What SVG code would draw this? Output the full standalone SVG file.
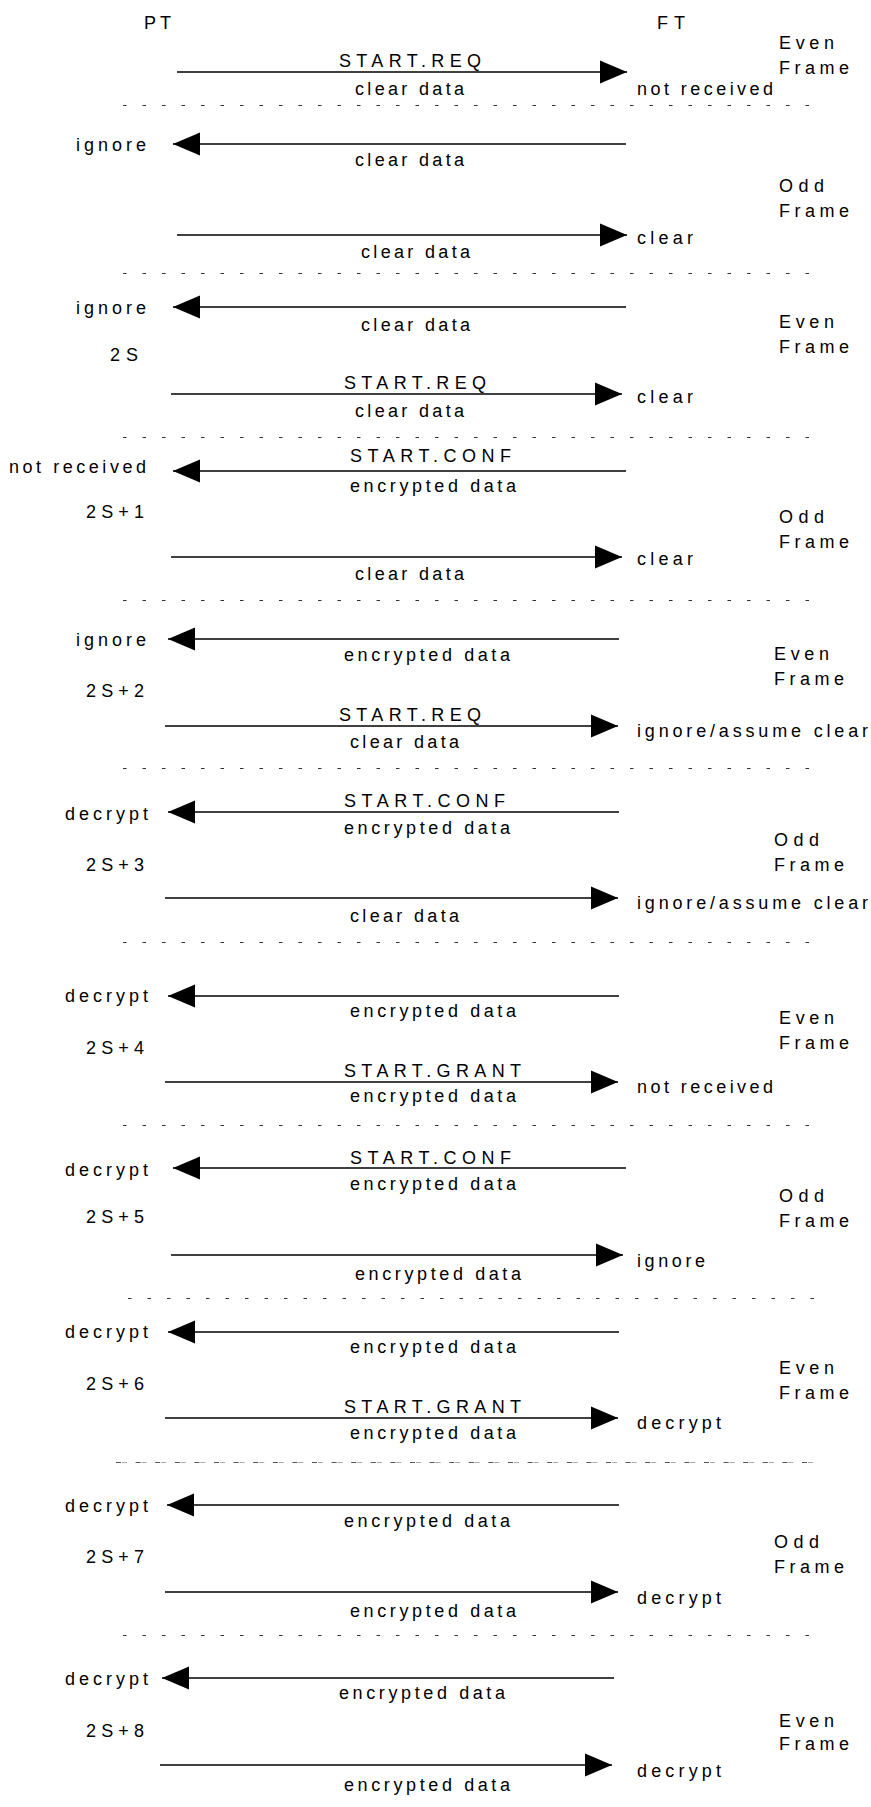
<svg xmlns="http://www.w3.org/2000/svg" width="871" height="1807" viewBox="0 0 871 1807">
<defs>
<style>
text{font-family:"Liberation Sans",Arial,sans-serif;font-size:18px;fill:#000}
.e{text-anchor:end}
.msg{stroke:#000;stroke-width:1.6;fill:none;marker-end:url(#ah)}
.sep{stroke:#333;stroke-width:1;stroke-dasharray:3.5 16;fill:none}
</style>
<marker id="ah" markerUnits="userSpaceOnUse" markerWidth="27" markerHeight="24" viewBox="0 0 27 24" refX="27" refY="12" orient="auto"><path d="M0,0.5 L27,12 L0,23.5 z" fill="#000"/></marker>
</defs>
<rect width="871" height="1807" fill="#fff"/>
<g id="headers">
<text x="144" y="29" textLength="27">PT</text>
<text x="657" y="29" textLength="28">FT</text>
</g>
<g id="separators">
<line class="sep" x1="123" y1="105.5" x2="818" y2="105.5"/>
<line class="sep" x1="123" y1="273.5" x2="818" y2="273.5"/>
<line class="sep" x1="123" y1="437.5" x2="818" y2="437.5"/>
<line class="sep" x1="123" y1="600.5" x2="818" y2="600.5"/>
<line class="sep" x1="123" y1="768.5" x2="818" y2="768.5"/>
<line class="sep" x1="123" y1="942.5" x2="818" y2="942.5"/>
<line class="sep" x1="123" y1="1125.5" x2="818" y2="1125.5"/>
<line class="sep" x1="128" y1="1298.5" x2="822" y2="1298.5"/>
<line x1="116" y1="1462.5" x2="818" y2="1462.5" stroke="#555" stroke-width="1" stroke-dasharray="5 14.6"/>
<line x1="122" y1="1462.5" x2="818" y2="1462.5" stroke="#aaa" stroke-width="1" stroke-dasharray="5 14.6"/>
<line class="sep" x1="123" y1="1635.5" x2="818" y2="1635.5"/>
</g>
<g id="connectors">
<line class="msg" x1="177" y1="72" x2="627" y2="72"/>
<line class="msg" x1="626" y1="144" x2="173" y2="144"/>
<line class="msg" x1="177" y1="235" x2="627" y2="235"/>
<line class="msg" x1="626" y1="307" x2="173" y2="307"/>
<line class="msg" x1="171" y1="394" x2="622" y2="394"/>
<line class="msg" x1="626" y1="471" x2="173" y2="471"/>
<line class="msg" x1="171" y1="557" x2="622" y2="557"/>
<line class="msg" x1="619" y1="639" x2="168" y2="639"/>
<line class="msg" x1="165" y1="726" x2="618" y2="726"/>
<line class="msg" x1="619" y1="812" x2="168" y2="812"/>
<line class="msg" x1="165" y1="898" x2="618" y2="898"/>
<line class="msg" x1="619" y1="996" x2="168" y2="996"/>
<line class="msg" x1="165" y1="1082" x2="618" y2="1082"/>
<line class="msg" x1="626" y1="1168" x2="173" y2="1168"/>
<line class="msg" x1="171" y1="1255" x2="623" y2="1255"/>
<line class="msg" x1="619" y1="1332" x2="168" y2="1332"/>
<line class="msg" x1="165" y1="1418" x2="618" y2="1418"/>
<line class="msg" x1="619" y1="1505" x2="167" y2="1505"/>
<line class="msg" x1="165" y1="1592" x2="618" y2="1592"/>
<line class="msg" x1="614" y1="1678" x2="162" y2="1678"/>
<line class="msg" x1="160" y1="1765" x2="612" y2="1765"/>
</g>
<g id="frame0">
<text x="779" y="49" textLength="55">Even</text>
<text x="779" y="74" textLength="70">Frame</text>
<text x="339" y="67" textLength="142">START.REQ</text>
<text x="355" y="95" textLength="109">clear data</text>
<text x="637" y="95" textLength="136">not received</text>
</g>
<g id="frame1">
<text class="e" x="146" y="151" textLength="70">ignore</text>
<text x="355" y="166" textLength="109">clear data</text>
<text x="779" y="192" textLength="45">Odd</text>
<text x="779" y="217" textLength="70">Frame</text>
<text x="637" y="244" textLength="56">clear</text>
<text x="361" y="258" textLength="109">clear data</text>
</g>
<g id="frame2">
<text class="e" x="146" y="314" textLength="70">ignore</text>
<text x="361" y="331" textLength="109">clear data</text>
<text x="779" y="328" textLength="55">Even</text>
<text x="779" y="353" textLength="70">Frame</text>
<text class="e" x="138" y="361" textLength="28">2S</text>
<text x="344" y="389" textLength="142">START.REQ</text>
<text x="637" y="403" textLength="56">clear</text>
<text x="355" y="417" textLength="109">clear data</text>
</g>
<g id="frame3">
<text x="350" y="462" textLength="161">START.CONF</text>
<text class="e" x="146" y="473" textLength="137">not received</text>
<text x="350" y="492" textLength="166">encrypted data</text>
<text class="e" x="144" y="518" textLength="58">2S+1</text>
<text x="779" y="523" textLength="45">Odd</text>
<text x="779" y="548" textLength="70">Frame</text>
<text x="637" y="565" textLength="56">clear</text>
<text x="355" y="580" textLength="109">clear data</text>
</g>
<g id="frame4">
<text class="e" x="146" y="646" textLength="70">ignore</text>
<text x="344" y="661" textLength="166">encrypted data</text>
<text x="774" y="660" textLength="55">Even</text>
<text x="774" y="685" textLength="70">Frame</text>
<text class="e" x="144" y="697" textLength="58">2S+2</text>
<text x="339" y="721" textLength="142">START.REQ</text>
<text x="637" y="737" textLength="231">ignore/assume clear</text>
<text x="350" y="748" textLength="109">clear data</text>
</g>
<g id="frame5">
<text x="344" y="807" textLength="161">START.CONF</text>
<text class="e" x="148" y="820" textLength="83">decrypt</text>
<text x="344" y="834" textLength="166">encrypted data</text>
<text x="774" y="846" textLength="45">Odd</text>
<text x="774" y="871" textLength="70">Frame</text>
<text class="e" x="144" y="871" textLength="58">2S+3</text>
<text x="637" y="909" textLength="231">ignore/assume clear</text>
<text x="350" y="922" textLength="109">clear data</text>
</g>
<g id="frame6">
<text class="e" x="148" y="1002" textLength="83">decrypt</text>
<text x="350" y="1017" textLength="166">encrypted data</text>
<text x="779" y="1024" textLength="55">Even</text>
<text x="779" y="1049" textLength="70">Frame</text>
<text class="e" x="144" y="1054" textLength="58">2S+4</text>
<text x="344" y="1077" textLength="177">START.GRANT</text>
<text x="637" y="1093" textLength="136">not received</text>
<text x="350" y="1102" textLength="166">encrypted data</text>
</g>
<g id="frame7">
<text x="350" y="1164" textLength="161">START.CONF</text>
<text class="e" x="148" y="1176" textLength="83">decrypt</text>
<text x="350" y="1190" textLength="166">encrypted data</text>
<text x="779" y="1202" textLength="45">Odd</text>
<text x="779" y="1227" textLength="70">Frame</text>
<text class="e" x="144" y="1223" textLength="58">2S+5</text>
<text x="637" y="1267" textLength="68">ignore</text>
<text x="355" y="1280" textLength="166">encrypted data</text>
</g>
<g id="frame8">
<text class="e" x="148" y="1338" textLength="83">decrypt</text>
<text x="350" y="1353" textLength="166">encrypted data</text>
<text x="779" y="1374" textLength="55">Even</text>
<text x="779" y="1399" textLength="70">Frame</text>
<text class="e" x="144" y="1390" textLength="58">2S+6</text>
<text x="344" y="1413" textLength="177">START.GRANT</text>
<text x="637" y="1429" textLength="84">decrypt</text>
<text x="350" y="1439" textLength="166">encrypted data</text>
</g>
<g id="frame9">
<text class="e" x="148" y="1512" textLength="83">decrypt</text>
<text x="344" y="1527" textLength="166">encrypted data</text>
<text x="774" y="1548" textLength="45">Odd</text>
<text x="774" y="1573" textLength="70">Frame</text>
<text class="e" x="144" y="1563" textLength="58">2S+7</text>
<text x="637" y="1604" textLength="84">decrypt</text>
<text x="350" y="1617" textLength="166">encrypted data</text>
</g>
<g id="frame10">
<text class="e" x="148" y="1685" textLength="83">decrypt</text>
<text x="339" y="1699" textLength="166">encrypted data</text>
<text x="779" y="1727" textLength="55">Even</text>
<text x="779" y="1750" textLength="70">Frame</text>
<text class="e" x="144" y="1737" textLength="58">2S+8</text>
<text x="637" y="1777" textLength="84">decrypt</text>
<text x="344" y="1791" textLength="166">encrypted data</text>
</g>
</svg>
